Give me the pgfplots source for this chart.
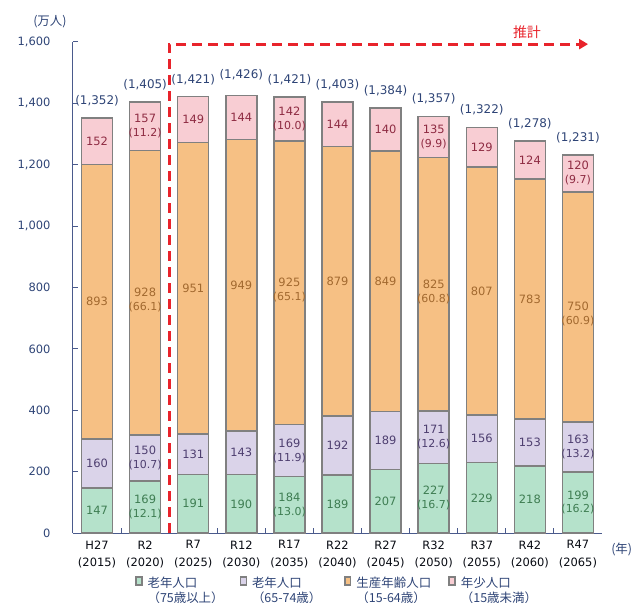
\documentclass[border=0pt]{standalone}
\usepackage{fontspec}
\setmainfont{DejaVu Sans}
\newfontfamily\jp{Noto Sans CJK JP}
\usepackage{pgfplots}
\pgfplotsset{compat=1.18}
\usepackage{pgfplotstable}
\usetikzlibrary{arrows.meta}

\definecolor{cg}{HTML}{B5E2CB}
\definecolor{cp}{HTML}{DAD3E9}
\definecolor{co}{HTML}{F6C084}
\definecolor{ck}{HTML}{F8CDD3}
\definecolor{tg}{HTML}{3E7D52}
\definecolor{tp}{HTML}{4E3F70}
\definecolor{to}{HTML}{A2692F}
\definecolor{tk}{HTML}{8E2B42}
\definecolor{navy}{HTML}{2E4476}
\definecolor{axc}{HTML}{4A5A8C}
\definecolor{edge}{HTML}{808080}
\definecolor{rd}{HTML}{E8232B}
\newcommand\pc{\fontsize{11}{12}\selectfont}

% x g(75+) p(65-74) o(15-64) k(<15) t(total)
\pgfplotstableread{
x g p o k t
0 147 160 893 152 1352
1 169 150 928 157 1405
2 191 131 951 149 1421
3 190 143 949 144 1426
4 184 169 925 142 1421
5 189 192 879 144 1403
6 207 189 849 140 1384
7 227 171 825 135 1357
8 229 156 807 129 1322
9 218 153 783 124 1278
10 199 163 750 120 1231
}\data

\begin{document}
\begin{tikzpicture}[
  lb/.style={font=\fontsize{11.5}{13}\selectfont, align=center, inner sep=0pt},
  tot/.style={text=navy, anchor=south, inner sep=0pt, font=\fontsize{12}{14}\selectfont, yshift=12bp},
  sq/.style={legend image code/.code={\draw[##1, line width=0.6bp] (0bp,0.5bp) rectangle (8bp,8.5bp);}}
]
\begin{axis}[
  at={(0,0)}, anchor=south west,
  scale only axis, width=529bp, height=491bp,
  ybar stacked, bar width=31bp,
  reverse stacked plots=false,
  xmin=-0.5, xmax=10.5, ymin=0, ymax=1600,
  clip=false,
  axis lines*=left,
  axis line style={draw=axc, line width=1bp},
  tick align=inside,
  ytick={0,200,...,1600},
  major tick length=5bp, minor tick length=5bp,
  ytick style={draw=axc, line width=1bp},
  xtick={0,...,10},
  minor xtick={0.5,1.5,...,9.5},
  major x tick style={draw=none},
  minor x tick style={draw=axc, line width=1bp},
  xticklabels={H27\\(2015),R2\\(2020),R7\\(2025),R12\\(2030),R17\\(2035),R22\\(2040),R27\\(2045),R32\\(2050),R37\\(2055),R42\\(2060),R47\\(2065)},
  xticklabel style={align=center, font=\fontsize{11.5}{18}\selectfont, text=black!85!navy, yshift=-4bp},
  yticklabel style={font=\fontsize{11.5}{13}\selectfont, text=navy, xshift=-19bp},
  /pgf/number format/.cd, 1000 sep={,}, assume math mode=true, /pgfplots/.cd,
  legend style={draw=none, fill=none, at={(0.117,-0.0855)}, anchor=north west,
    inner sep=0pt, legend columns=4, font=\jp\fontsize{12.5}{15}\selectfont, text=navy,
    /tikz/every odd column/.append style={column sep=3bp}},
  legend cell align=left,
]
\addplot[sq, fill=cg, draw=edge, line width=1.5bp] table[x=x,y=g]{\data};
\addplot[sq, fill=cp, draw=edge, line width=1.5bp] table[x=x,y=p]{\data};
\addplot[sq, fill=co, draw=edge, line width=1.5bp] table[x=x,y=o]{\data};
\addplot[sq, fill=ck, draw=edge, line width=1.5bp] table[x=x,y=k]{\data};
\addlegendentry{\parbox[t]{90bp}{老年人口\\（75歳以上）}}
\addlegendentry{\parbox[t]{90bp}{老年人口\\（65-74歳）}}
\addlegendentry{\parbox[t]{90bp}{生産年齢人口\\（15-64歳）}}
\addlegendentry{\parbox[t]{90bp}{年少人口\\（15歳未満）}}

% green labels
\node[lb, text=tg] at (axis cs:0,73.5) {147};
\node[lb, text=tg] at (axis cs:1,84.5) {169\\[1pt]{\pc(12.1)}};
\node[lb, text=tg] at (axis cs:2,95.5) {191};
\node[lb, text=tg] at (axis cs:3,95) {190};
\node[lb, text=tg] at (axis cs:4,92) {184\\[1pt]{\pc(13.0)}};
\node[lb, text=tg] at (axis cs:5,94.5) {189};
\node[lb, text=tg] at (axis cs:6,103.5) {207};
\node[lb, text=tg] at (axis cs:7,113.5) {227\\[1pt]{\pc(16.7)}};
\node[lb, text=tg] at (axis cs:8,114.5) {229};
\node[lb, text=tg] at (axis cs:9,109) {218};
\node[lb, text=tg] at (axis cs:10,99.5) {199\\[1pt]{\pc(16.2)}};
% purple labels
\node[lb, text=tp] at (axis cs:0,227) {160};
\node[lb, text=tp] at (axis cs:1,244) {150\\[1pt]{\pc(10.7)}};
\node[lb, text=tp] at (axis cs:2,256.5) {131};
\node[lb, text=tp] at (axis cs:3,261.5) {143};
\node[lb, text=tp] at (axis cs:4,268.5) {169\\[1pt]{\pc(11.9)}};
\node[lb, text=tp] at (axis cs:5,285) {192};
\node[lb, text=tp] at (axis cs:6,301.5) {189};
\node[lb, text=tp] at (axis cs:7,312.5) {171\\[1pt]{\pc(12.6)}};
\node[lb, text=tp] at (axis cs:8,307) {156};
\node[lb, text=tp] at (axis cs:9,294.5) {153};
\node[lb, text=tp] at (axis cs:10,280.5) {163\\[1pt]{\pc(13.2)}};
% orange labels
\node[lb, text=to] at (axis cs:0,753.5) {893};
\node[lb, text=to] at (axis cs:1,759) {928\\[1pt]{\pc(66.1)}};
\node[lb, text=to] at (axis cs:2,797.5) {951};
\node[lb, text=to] at (axis cs:3,807.5) {949};
\node[lb, text=to] at (axis cs:4,791) {925\\[1pt]{\pc(65.1)}};
\node[lb, text=to] at (axis cs:5,820.5) {879};
\node[lb, text=to] at (axis cs:6,820.5) {849};
\node[lb, text=to] at (axis cs:7,786) {825\\[1pt]{\pc(60.8)}};
\node[lb, text=to] at (axis cs:8,788.5) {807};
\node[lb, text=to] at (axis cs:9,762.5) {783};
\node[lb, text=to] at (axis cs:10,713) {750\\[1pt]{\pc(60.9)}};
% pink labels
\node[lb, text=tk] at (axis cs:0,1276) {152};
\node[lb, text=tk] at (axis cs:1,1325.5) {157\\[1pt]{\pc(11.2)}};
\node[lb, text=tk] at (axis cs:2,1347.5) {149};
\node[lb, text=tk] at (axis cs:3,1354) {144};
\node[lb, text=tk] at (axis cs:4,1349) {142\\[1pt]{\pc(10.0)}};
\node[lb, text=tk] at (axis cs:5,1332) {144};
\node[lb, text=tk] at (axis cs:6,1315) {140};
\node[lb, text=tk] at (axis cs:7,1290.5) {135\\[1pt]{\pc(9.9)}};
\node[lb, text=tk] at (axis cs:8,1256.5) {129};
\node[lb, text=tk] at (axis cs:9,1216) {124};
\node[lb, text=tk] at (axis cs:10,1172) {120\\[1pt]{\pc(9.7)}};
% totals
\node[tot] at (axis cs:0,1352) {(1,352)};
\node[tot] at (axis cs:1,1405) {(1,405)};
\node[tot] at (axis cs:2,1421) {(1,421)};
\node[tot, yshift=3bp] at (axis cs:3,1426) {(1,426)};
\node[tot] at (axis cs:4,1421) {(1,421)};
\node[tot] at (axis cs:5,1403) {(1,403)};
\node[tot] at (axis cs:6,1384) {(1,384)};
\node[tot] at (axis cs:7,1357) {(1,357)};
\node[tot] at (axis cs:8,1322) {(1,322)};
\node[tot] at (axis cs:9,1278) {(1,278)};
\node[tot] at (axis cs:10,1231) {(1,231)};

% projection marker
\draw[rd, line width=3bp, dash pattern=on 10bp off 6bp, -{Triangle[length=9bp,width=10bp]}]
  (axis cs:1.5,0) -- (axis cs:1.5,1593) -- (axis cs:10.21,1593);
\node[text=rd, font=\jp\fontsize{14}{16}\selectfont] at (axis cs:8.94,1633) {推計};
\node[text=navy, font=\jp\fontsize{12.5}{15}\selectfont] at (axis cs:-0.98,1665) {(万人)};
\node[text=navy, font=\jp\fontsize{12.5}{15}\selectfont] at (axis cs:10.91,-55) {(年)};
\end{axis}
\pgfresetboundingbox
\useasboundingbox (-73bp,-70bp) rectangle (566bp,533bp);
\end{tikzpicture}
\end{document}
